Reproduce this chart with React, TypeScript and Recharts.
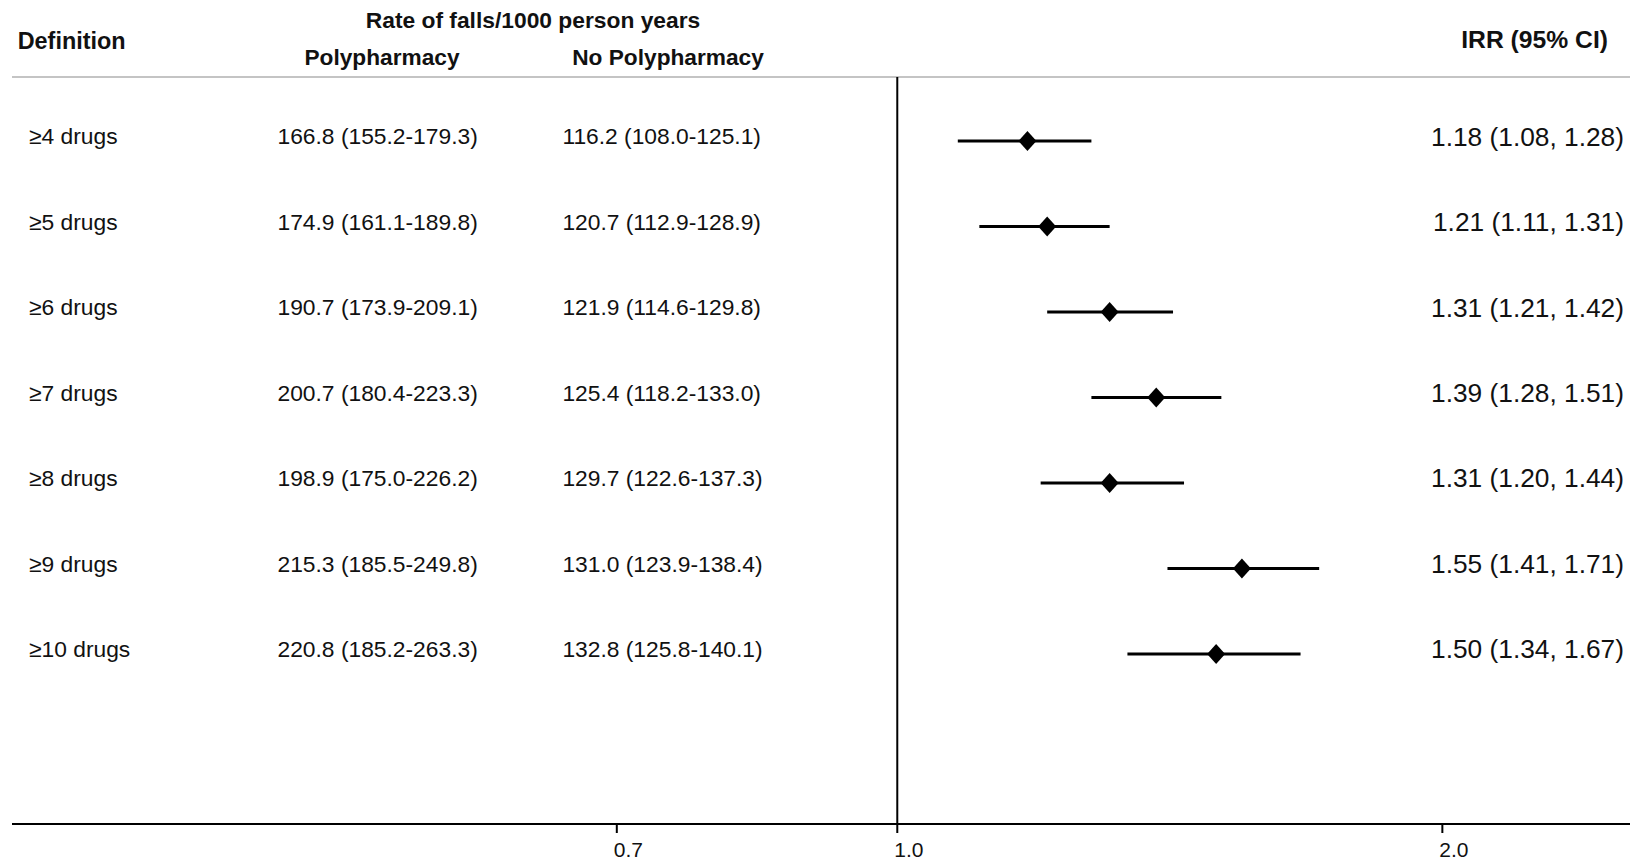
import React from 'react';
import { ScatterChart, Scatter, XAxis, YAxis, ReferenceLine, ErrorBar, Customized } from 'recharts';

const FONT = '"Liberation Sans", Arial, Helvetica, sans-serif';

const definitions = ['≥4 drugs', '≥5 drugs', '≥6 drugs', '≥7 drugs', '≥8 drugs', '≥9 drugs', '≥10 drugs'];
const polyRates = [
  '166.8 (155.2-179.3)',
  '174.9 (161.1-189.8)',
  '190.7 (173.9-209.1)',
  '200.7 (180.4-223.3)',
  '198.9 (175.0-226.2)',
  '215.3 (185.5-249.8)',
  '220.8 (185.2-263.3)',
];
const noPolyRates = [
  '116.2 (108.0-125.1)',
  '120.7 (112.9-128.9)',
  '121.9 (114.6-129.8)',
  '125.4 (118.2-133.0)',
  '129.7 (122.6-137.3)',
  '131.0 (123.9-138.4)',
  '132.8 (125.8-140.1)',
];
const irr = [1.18, 1.21, 1.31, 1.39, 1.31, 1.55, 1.5];
const irrLow = [1.08, 1.11, 1.21, 1.28, 1.2, 1.41, 1.34];
const irrHigh = [1.28, 1.31, 1.42, 1.51, 1.44, 1.71, 1.67];
const xTicks = [0.7, 1.0, 2.0];
const rowTicks = [1, 2, 3, 4, 5, 6, 7];

const data = irr.map((v, i) => ({ row: i + 1, irr: v, err: [v - irrLow[i], irrHigh[i] - v] }));
const irrLabel = (i: number) => `${irr[i].toFixed(2)} (${irrLow[i].toFixed(2)}, ${irrHigh[i].toFixed(2)})`;

const RowText = (props: any) => {
  const { cy, payload } = props;
  if (cy == null || !payload) return null;
  const i = Math.round(payload.row) - 1;
  if (i < 0 || i >= definitions.length) return null;
  const ty = cy - 5;
  return (
    <g fontFamily={FONT} fill="#111">
      <text x={29} y={ty} dy="0.36em" fontSize={22.8} fill="#111">{definitions[i]}</text>
      <text x={277.5} y={ty} dy="0.36em" fontSize={22.8} fill="#111">{polyRates[i]}</text>
      <text x={562.4} y={ty} dy="0.36em" fontSize={22.8} fill="#111">{noPolyRates[i]}</text>
      <text x={1624} y={ty} dy="0.36em" fontSize={26.3} textAnchor="end" fill="#111">{irrLabel(i)}</text>
    </g>
  );
};

const XTick = (props: any) => {
  const { x, y, payload } = props;
  return (
    <text x={x - 3} y={y + 14} dy="0.36em" fontSize={21} fontFamily={FONT} fill="#111">
      {Number(payload.value).toFixed(1)}
    </text>
  );
};

const Diamond = (props: any) => {
  const { cx, cy } = props;
  if (cx == null || cy == null) return null;
  return <polygon points={`${cx},${cy - 10} ${cx + 9},${cy} ${cx},${cy + 10} ${cx - 9},${cy}`} fill="#000" />;
};

const Headers = () => (
  <g fontFamily={FONT} fontWeight="bold" fill="#111">
    <text x={17.7} y={40.5} dy="0.36em" fontSize={23.4}>Definition</text>
    <text x={533} y={20} dy="0.36em" fontSize={22.8} textAnchor="middle">Rate of falls/1000 person years</text>
    <text x={382} y={57} dy="0.36em" fontSize={22.7} textAnchor="middle">Polypharmacy</text>
    <text x={668} y={57} dy="0.36em" fontSize={22.7} textAnchor="middle">No Polypharmacy</text>
    <text x={1608} y={39.5} dy="0.36em" fontSize={24.7} textAnchor="end">IRR (95% CI)</text>
  </g>
);

export default function App() {
  return (
    <div style={{ width: 1630, height: 862, overflow: 'hidden', background: '#fff' }}>
      <style>{'body{margin:0;overflow:hidden;}'}</style>
      <ScatterChart width={1630} height={862} margin={{ top: 77, right: 0, bottom: 0, left: 12 }}>
        <XAxis
          type="number"
          dataKey="irr"
          scale="log"
          domain={[0.3244, 2.539]}
          allowDataOverflow
          ticks={xTicks}
          height={38}
          axisLine={{ stroke: '#000', strokeWidth: 2 }}
          tickLine={{ stroke: '#000', strokeWidth: 2 }}
          tickSize={9}
          tick={<XTick />}
          interval={0}
        />
        <YAxis
          type="number"
          dataKey="row"
          domain={[0.25, 8.99]}
          reversed
          allowDataOverflow
          ticks={rowTicks}
          hide
        />
        <ReferenceLine y={0.25} stroke="#c4c4c4" strokeWidth={2} ifOverflow="extendDomain" />
        <ReferenceLine x={1} stroke="#000" strokeWidth={2} />
        <Scatter data={data} shape={<RowText />} isAnimationActive={false} />
        <Scatter data={data} shape={<Diamond />} isAnimationActive={false}>
          <ErrorBar dataKey="err" direction="x" width={0} stroke="#000" strokeWidth={3} isAnimationActive={false} />
        </Scatter>
        <Customized component={Headers} />
      </ScatterChart>
    </div>
  );
}
